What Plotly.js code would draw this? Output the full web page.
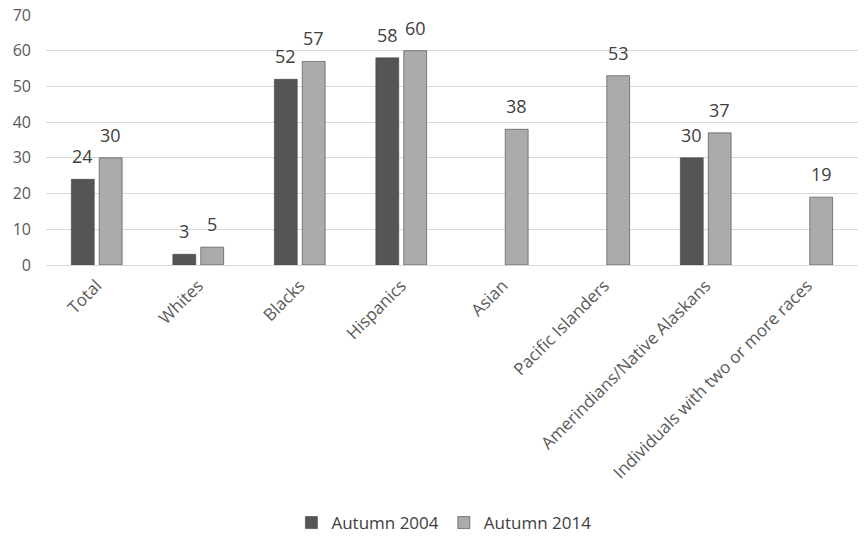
<!DOCTYPE html>
<html>
<head>
<meta charset="utf-8">
<script src="https://cdn.plot.ly/plotly-3.0.1.min.js"></script>
<style>
  html, body { margin: 0; padding: 0; background: #ffffff; }
  #chart { width: 867px; height: 542px; }
</style>
</head>
<body>
<div id="chart"></div>
<script>
// Groups shown along the x axis
const categories = [
  "Total",
  "Whites",
  "Blacks",
  "Hispanics",
  "Asian",
  "Pacific Islanders",
  "Amerindians/Native Alaskans",
  "Individuals with two or more races"
];

// Percentages per group; null where no figure was reported
const autumn2004 = [24, 3, 52, 58, null, null, 30, null];
const autumn2014 = [30, 5, 57, 60, 38, 53, 37, 19];

const seriesNames = ["Autumn 2004", "Autumn 2014"];
const seriesColors = ["#555555", "#ababab"];
const yTicks = [0, 10, 20, 30, 40, 50, 60, 70];

const fontFamily = "'Open Sans', 'Liberation Sans', sans-serif";

// Bar geometry (fractions of one category slot)
const BAR_GAP = 0.45;
const GROUP_GAP = 0.18;
const slot = (1 - BAR_GAP) / 2;          // width of one series slot, data units
const centerOffset = slot / 2;           // bar centre distance from category centre

const seriesValues = [autumn2004, autumn2014];

const data = seriesValues.map((values, s) => ({
  type: "bar",
  name: seriesNames[s],
  x: categories,
  y: values,
  marker: { color: seriesColors[s], line: { color: "#3f3f3f", width: 0.6 } },
  hoverinfo: "x+y+name"
}));

// Value labels floating above each bar
const annotations = [];
seriesValues.forEach((values, s) => {
  const dx = s === 0 ? -centerOffset : centerOffset;
  values.forEach((v, i) => {
    if (v === null) return;
    annotations.push({
      xref: "x",
      yref: "y",
      x: i + dx,
      y: v,
      text: String(v),
      showarrow: false,
      xanchor: "center",
      yanchor: "bottom",
      yshift: 9,
      font: { family: fontFamily, size: 18, color: "#404040" }
    });
  });
});

const layout = {
  width: 867,
  height: 542,
  margin: { l: 46, r: 9, t: 15, b: 277 },
  paper_bgcolor: "#ffffff",
  plot_bgcolor: "#ffffff",
  font: { family: fontFamily, size: 16, color: "#595959" },
  barmode: "group",
  bargap: BAR_GAP,
  bargroupgap: GROUP_GAP,
  showlegend: true,
  legend: {
    orientation: "h",
    x: 0.512,
    xanchor: "center",
    xref: "container",
    y: 0.035,
    yref: "container",
    yanchor: "middle",
    font: { family: fontFamily, size: 17, color: "#404040" },
    itemwidth: 30,
    traceorder: "normal"
  },
  annotations: annotations,
  xaxis: {
    type: "category",
    tickangle: -45,
    tickfont: { family: fontFamily, size: 17, color: "#595959" },
    showgrid: false,
    showline: true,
    linecolor: "#d9d9d9",
    linewidth: 1,
    ticks: "",
    ticklabelstandoff: 3,
    automargin: false
  },
  yaxis: {
    range: [0, 70],
    tickvals: yTicks,
    ticktext: yTicks.map(String),
    tickfont: { family: fontFamily, size: 16, color: "#595959" },
    showgrid: true,
    gridcolor: "#d9d9d9",
    gridwidth: 1,
    zeroline: false,
    showline: false,
    ticks: "",
    ticklabelstandoff: 14,
    automargin: false
  }
};

Plotly.newPlot("chart", data, layout, { displayModeBar: false, staticPlot: true });
</script>
</body>
</html>
